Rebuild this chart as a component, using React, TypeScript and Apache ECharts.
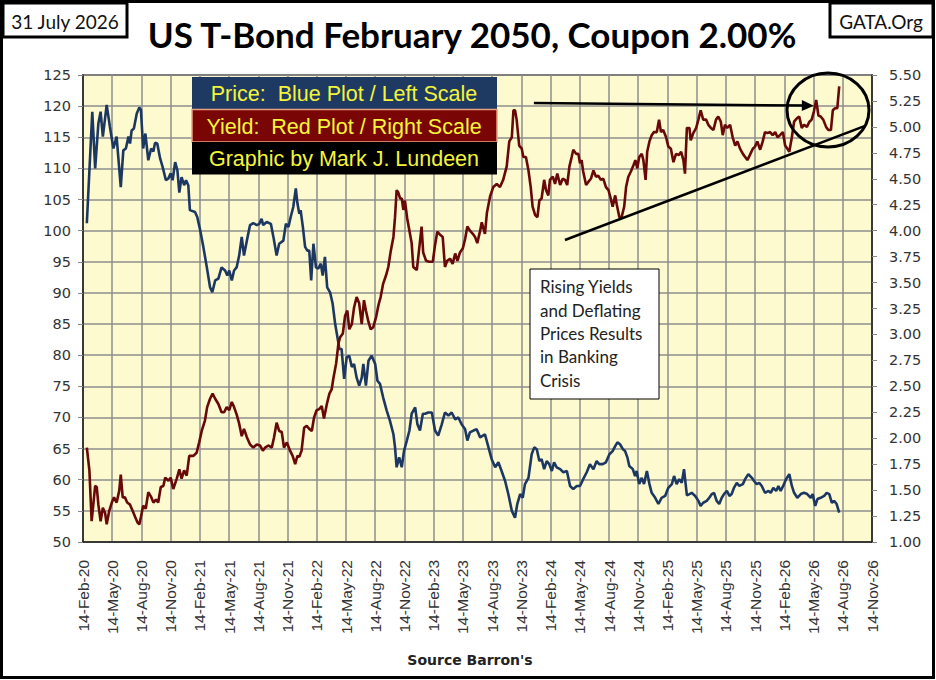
import { useEffect, useRef } from 'react'
import * as echarts from 'echarts'

// x values are days since 14-Feb-20; one quarter = 365.25 / 4 days
const QUARTER_DAYS = 91.3125

const quarterLabels = [
  '14-Feb-20', '14-May-20', '14-Aug-20', '14-Nov-20',
  '14-Feb-21', '14-May-21', '14-Aug-21', '14-Nov-21',
  '14-Feb-22', '14-May-22', '14-Aug-22', '14-Nov-22',
  '14-Feb-23', '14-May-23', '14-Aug-23', '14-Nov-23',
  '14-Feb-24', '14-May-24', '14-Aug-24', '14-Nov-24',
  '14-Feb-25', '14-May-25', '14-Aug-25', '14-Nov-25',
  '14-Feb-26', '14-May-26', '14-Aug-26', '14-Nov-26',
]

// [day, price]
const pricePoints: [number, number][] = [
  [12, 101.2], [29, 119.1], [38, 110.0], [48, 117.2], [55, 119.1], [62, 115.1], [74, 120.2], [84, 116.7],
  [95, 113.2], [105, 115.1], [118, 107.0], [126, 112.9], [134, 113.2], [142, 115.1], [147, 114.0], [152, 116.1],
  [159, 116.4], [168, 118.8], [176, 119.8], [181, 119.4], [188, 113.2], [195, 115.6], [204, 111.3], [213, 113.2],
  [220, 112.7], [225, 114.1], [232, 114.0], [241, 111.6], [249, 110.2], [259, 108.1], [267, 108.4], [274, 109.2],
  [280, 108.1], [288, 111.0], [295, 109.7], [301, 106.1], [308, 108.6], [316, 107.3], [322, 108.1], [329, 107.3],
  [334, 103.3], [350, 103.0], [357, 102.2], [366, 100.1], [376, 97.4], [387, 94.1], [397, 90.9], [404, 90.1],
  [413, 92.0], [423, 92.3], [433, 94.1], [444, 93.6], [451, 92.8], [457, 93.6], [465, 92.0], [472, 93.6],
  [480, 94.1], [488, 96.0], [496, 99.0], [503, 96.0], [512, 98.4], [522, 100.9], [532, 101.2], [543, 100.9],
  [551, 101.1], [558, 101.9], [563, 100.9], [574, 101.4], [587, 101.1], [595, 99.0], [605, 96.0], [613, 97.9],
  [626, 98.4], [634, 101.1], [642, 100.6], [649, 102.2], [657, 103.8], [665, 106.8], [670, 104.4], [676, 102.7],
  [680, 103.3], [687, 100.6], [694, 97.4], [701, 96.8], [707, 96.8], [713, 92.0], [720, 97.9], [728, 94.1],
  [735, 93.9], [743, 94.7], [749, 92.8], [756, 95.8], [763, 90.9], [772, 90.1], [780, 88.3], [788, 85.0],
  [795, 82.9], [801, 81.0], [808, 81.0], [816, 76.2], [824, 79.7], [832, 79.9], [840, 78.1], [847, 78.6],
  [855, 76.4], [863, 75.1], [871, 76.4], [876, 78.6], [884, 75.1], [892, 79.1], [902, 79.9], [913, 78.6],
  [920, 75.9], [928, 75.4], [938, 73.2], [949, 71.1], [959, 69.5], [970, 67.3], [975, 65.2], [980, 62.0],
  [988, 63.6], [996, 62.0], [1003, 64.6], [1012, 66.3], [1020, 67.9], [1027, 70.6], [1038, 71.6], [1045, 68.9],
  [1053, 67.9], [1062, 70.6], [1069, 70.6], [1079, 70.8], [1090, 70.8], [1100, 67.9], [1110, 67.1], [1121, 68.9],
  [1131, 70.8], [1142, 70.3], [1152, 70.8], [1163, 69.7], [1173, 70.0], [1183, 68.9], [1194, 68.1], [1201, 66.3],
  [1209, 67.6], [1220, 67.9], [1230, 68.1], [1241, 66.8], [1256, 67.3], [1267, 65.2], [1277, 63.3], [1288, 62.0],
  [1298, 62.8], [1308, 61.4], [1319, 59.8], [1329, 57.7], [1340, 55.0], [1350, 53.9], [1357, 56.1], [1366, 57.7],
  [1374, 57.1], [1381, 59.3], [1392, 60.3], [1402, 64.1], [1410, 65.2], [1418, 64.9], [1426, 63.0], [1433, 63.3],
  [1441, 61.7], [1449, 63.0], [1457, 62.5], [1465, 61.4], [1472, 62.8], [1480, 62.0], [1491, 61.7], [1501, 61.2],
  [1512, 61.4], [1522, 59.0], [1532, 58.5], [1543, 59.0], [1553, 59.0], [1563, 60.1], [1574, 61.2], [1584, 62.5],
  [1595, 61.7], [1605, 63.0], [1613, 62.5], [1624, 62.5], [1634, 62.8], [1645, 64.1], [1655, 64.6], [1663, 65.4],
  [1670, 66.0], [1678, 65.7], [1687, 64.9], [1694, 64.6], [1701, 63.6], [1707, 62.2], [1718, 61.7], [1725, 60.6],
  [1730, 61.4], [1738, 59.3], [1746, 60.3], [1753, 59.3], [1762, 61.4], [1770, 59.3], [1777, 57.9], [1788, 57.1],
  [1798, 56.1], [1808, 57.1], [1819, 57.4], [1829, 58.7], [1840, 59.3], [1847, 60.6], [1855, 59.3], [1863, 60.1],
  [1871, 59.5], [1878, 61.7], [1887, 57.5], [1895, 57.7], [1902, 57.9], [1913, 57.4], [1923, 56.6], [1930, 55.8],
  [1938, 56.3], [1949, 56.6], [1957, 57.1], [1965, 57.7], [1972, 57.9], [1980, 56.6], [1988, 56.1], [1996, 57.1],
  [2003, 57.7], [2012, 58.2], [2020, 57.4], [2027, 57.7], [2034, 58.7], [2043, 59.5], [2051, 59.0], [2062, 59.3],
  [2069, 60.1], [2079, 60.9], [2090, 60.3], [2097, 59.8], [2105, 59.3], [2113, 59.5], [2121, 59.0], [2131, 57.9],
  [2142, 58.2], [2149, 57.9], [2157, 58.7], [2166, 58.2], [2173, 59.0], [2180, 58.2], [2188, 59.0], [2197, 60.1],
  [2207, 60.9], [2215, 59.0], [2222, 57.9], [2232, 57.1], [2243, 57.7], [2253, 57.9], [2263, 57.7], [2274, 57.1],
  [2280, 57.7], [2288, 55.8], [2295, 56.9], [2305, 57.1], [2316, 57.4], [2324, 57.9], [2332, 57.7], [2340, 56.3],
  [2347, 56.6], [2355, 56.1], [2363, 54.7],
]

// [day, yield %]
const yieldPoints: [number, number][] = [
  [12, 1.91], [20, 1.69], [27, 1.20], [38, 1.54], [43, 1.53], [48, 1.36], [55, 1.20], [62, 1.33],
  [69, 1.28], [74, 1.17], [82, 1.30], [90, 1.38], [97, 1.43], [105, 1.38], [113, 1.49], [118, 1.65],
  [124, 1.43], [131, 1.43], [138, 1.38], [147, 1.36], [155, 1.30], [163, 1.24], [170, 1.19], [176, 1.17],
  [181, 1.24], [188, 1.35], [196, 1.32], [204, 1.48], [212, 1.44], [220, 1.38], [228, 1.41], [235, 1.38],
  [243, 1.53], [251, 1.54], [257, 1.62], [267, 1.59], [274, 1.62], [282, 1.51], [293, 1.61], [301, 1.70],
  [308, 1.61], [316, 1.69], [324, 1.64], [332, 1.83], [345, 1.83], [355, 1.86], [363, 1.96], [371, 2.07],
  [381, 2.17], [388, 2.30], [397, 2.38], [405, 2.43], [413, 2.38], [423, 2.33], [433, 2.25], [441, 2.25],
  [449, 2.30], [457, 2.27], [465, 2.35], [472, 2.30], [480, 2.23], [488, 2.14], [496, 2.02], [503, 2.09],
  [512, 2.01], [522, 1.94], [532, 1.91], [543, 1.94], [553, 1.93], [562, 1.88], [569, 1.91], [579, 1.93],
  [590, 1.91], [597, 2.01], [605, 2.15], [613, 2.07], [621, 2.06], [628, 1.91], [637, 1.96], [647, 1.88],
  [655, 1.83], [663, 1.75], [670, 1.83], [676, 1.82], [683, 1.88], [691, 2.10], [699, 2.12], [707, 2.09],
  [715, 2.07], [722, 2.20], [730, 2.27], [738, 2.28], [746, 2.31], [753, 2.19], [762, 2.33], [770, 2.43],
  [777, 2.47], [782, 2.57], [791, 2.72], [798, 2.91], [803, 2.97], [812, 3.01], [819, 3.18], [826, 3.23],
  [832, 3.05], [840, 3.10], [847, 3.26], [855, 3.36], [863, 3.30], [871, 3.10], [878, 3.33], [884, 3.23],
  [892, 3.12], [899, 3.05], [907, 3.07], [916, 3.17], [923, 3.28], [930, 3.36], [938, 3.49], [947, 3.57],
  [954, 3.65], [962, 3.81], [970, 3.94], [975, 4.13], [980, 4.39], [985, 4.37], [991, 4.31], [996, 4.31],
  [1001, 4.20], [1006, 4.29], [1013, 4.12], [1020, 4.00], [1027, 3.88], [1032, 3.65], [1043, 3.62], [1051, 3.84],
  [1058, 4.04], [1063, 3.79], [1072, 3.71], [1082, 3.70], [1093, 3.70], [1100, 3.86], [1107, 3.99], [1116, 3.96],
  [1124, 3.94], [1131, 3.65], [1138, 3.71], [1147, 3.73], [1155, 3.68], [1163, 3.78], [1170, 3.71], [1178, 3.79],
  [1187, 3.83], [1194, 3.92], [1201, 4.04], [1209, 4.00], [1218, 3.97], [1225, 3.94], [1232, 3.88], [1241, 4.00],
  [1246, 4.08], [1256, 3.97], [1262, 4.17], [1272, 4.33], [1282, 4.42], [1293, 4.45], [1303, 4.42], [1313, 4.49],
  [1324, 4.62], [1332, 4.86], [1340, 4.90], [1345, 5.16], [1350, 5.16], [1355, 5.07], [1363, 4.82], [1371, 4.79],
  [1376, 4.71], [1384, 4.71], [1392, 4.58], [1399, 4.42], [1405, 4.23], [1413, 4.15], [1420, 4.13], [1426, 4.29],
  [1433, 4.31], [1441, 4.49], [1447, 4.39], [1454, 4.34], [1459, 4.49], [1468, 4.52], [1475, 4.45], [1482, 4.55],
  [1491, 4.44], [1499, 4.50], [1506, 4.49], [1513, 4.44], [1520, 4.62], [1527, 4.71], [1532, 4.78], [1541, 4.74],
  [1548, 4.74], [1553, 4.65], [1558, 4.68], [1563, 4.57], [1572, 4.44], [1579, 4.47], [1587, 4.50], [1595, 4.58],
  [1603, 4.52], [1610, 4.53], [1618, 4.49], [1626, 4.50], [1634, 4.42], [1642, 4.39], [1649, 4.31], [1655, 4.23],
  [1663, 4.34], [1668, 4.25], [1676, 4.13], [1683, 4.13], [1691, 4.23], [1697, 4.42], [1704, 4.52], [1712, 4.57],
  [1720, 4.63], [1726, 4.68], [1732, 4.60], [1738, 4.71], [1746, 4.74], [1751, 4.68], [1758, 4.49], [1763, 4.76],
  [1770, 4.86], [1777, 4.92], [1784, 4.95], [1793, 4.95], [1800, 5.07], [1806, 4.95], [1813, 4.97], [1822, 4.90],
  [1829, 4.81], [1837, 4.79], [1845, 4.66], [1853, 4.74], [1862, 4.73], [1869, 4.76], [1876, 4.68], [1881, 4.55],
  [1887, 4.99], [1895, 4.99], [1899, 4.87], [1907, 4.94], [1916, 4.99], [1923, 5.07], [1930, 5.16], [1938, 5.07],
  [1947, 5.07], [1954, 5.02], [1962, 4.99], [1970, 4.97], [1978, 5.07], [1985, 5.10], [1993, 5.05], [1999, 4.92],
  [2006, 5.02], [2013, 4.99], [2022, 5.02], [2030, 4.90], [2038, 4.82], [2045, 4.86], [2053, 4.79], [2062, 4.74],
  [2069, 4.71], [2076, 4.68], [2084, 4.73], [2093, 4.79], [2100, 4.81], [2107, 4.86], [2116, 4.78], [2124, 4.86],
  [2131, 4.95], [2138, 4.94], [2147, 4.95], [2155, 4.92], [2163, 4.95], [2170, 4.90], [2178, 4.92], [2187, 4.95],
  [2194, 4.82], [2201, 4.79], [2207, 4.76], [2215, 4.90], [2222, 5.05], [2230, 5.08], [2238, 5.10], [2246, 4.99],
  [2253, 5.02], [2262, 5.00], [2270, 5.05], [2277, 5.07], [2284, 5.15], [2291, 5.26], [2298, 5.11], [2305, 5.10],
  [2313, 5.07], [2322, 5.00], [2329, 4.97], [2337, 4.97], [2343, 5.16], [2350, 5.18], [2357, 5.18], [2363, 5.39],
]

// hand-drawn annotations, in [day, yield] coordinates
const trendLine: [number, number][] = [[1506, 3.91], [2444, 5.01]]
const arrowLine: [number, number][] = [[1409, 5.23], [2265, 5.205]]

const legendRows = [
  { text: 'Price:  Blue Plot / Left Scale', fill: '#1E3A63' },
  { text: 'Yield:  Red Plot / Right Scale', fill: '#7A0505' },
  { text: 'Graphic by Mark J. Lundeen', fill: '#000000' },
]

const noteLines = ['Rising Yields', 'and Deflating', 'Prices Results', 'in Banking', 'Crisis']

export default function App() {
  const containerRef = useRef<HTMLDivElement>(null)

  useEffect(() => {
    if (!containerRef.current) return
    const chart = echarts.init(containerRef.current, null, { renderer: 'svg' })

    const labelFont = { fontFamily: 'DejaVu Sans', fontSize: 14.5, color: '#333' }

    chart.setOption({
      animation: false,
      grid: {
        left: 83,
        right: 64,
        top: 75,
        bottom: 138,
        show: true,
        backgroundColor: '#FEFAD0',
        borderColor: '#222',
        borderWidth: 1.5,
      },
      xAxis: {
        type: 'value',
        min: 0,
        max: QUARTER_DAYS * (quarterLabels.length - 1),
        interval: QUARTER_DAYS,
        axisLine: { show: true, lineStyle: { color: '#222', width: 1.5 } },
        axisTick: { show: false },
        splitLine: { show: true, lineStyle: { color: '#8E8E8E', width: 1.5 } },
        axisLabel: {
          rotate: 90,
          margin: 18,
          showMinLabel: true,
          showMaxLabel: true,
          fontFamily: 'Liberation Sans',
          fontSize: 15.5,
          color: '#333',
          formatter: (v: number) => quarterLabels[Math.round(v / QUARTER_DAYS)] ?? '',
        },
      },
      yAxis: [
        {
          type: 'value',
          position: 'left',
          min: 50,
          max: 125,
          interval: 5,
          axisLine: { show: true, lineStyle: { color: '#222', width: 1.5 } },
          axisTick: { show: true, length: 5, lineStyle: { color: '#888' } },
          splitLine: { show: true, lineStyle: { color: '#8E8E8E', width: 1.5 } },
          axisLabel: { ...labelFont, margin: 12 },
        },
        {
          type: 'value',
          position: 'right',
          min: 1,
          max: 5.5,
          interval: 0.25,
          axisLine: { show: true, lineStyle: { color: '#222', width: 1.5 } },
          axisTick: { show: true, length: 5, lineStyle: { color: '#888' } },
          splitLine: { show: false },
          axisLabel: { ...labelFont, margin: 17, formatter: (v: number) => v.toFixed(2) },
        },
      ],
      series: [
        {
          name: 'Price',
          type: 'line',
          yAxisIndex: 0,
          data: pricePoints,
          symbol: 'none',
          lineStyle: { color: '#1C3862', width: 2.6 },
          z: 3,
        },
        {
          name: 'Yield',
          type: 'line',
          yAxisIndex: 1,
          data: yieldPoints,
          symbol: 'none',
          lineStyle: { color: '#680808', width: 2.6 },
          z: 4,
          markLine: {
            silent: true,
            symbol: ['none', 'none'],
            label: { show: false },
            lineStyle: { color: '#000', width: 2.5, type: 'solid' },
            data: [
              [{ coord: trendLine[0] }, { coord: trendLine[1] }],
              [
                { coord: arrowLine[0] },
                { coord: arrowLine[1], symbol: 'triangle', symbolSize: [11, 12] },
              ],
            ],
          },
        },
      ],
      graphic: [
        {
          type: 'rect',
          shape: { x: 1.5, y: 1.5, width: 932, height: 676 },
          style: { fill: 'none', stroke: '#000', lineWidth: 3 },
          z: 20,
        },
        {
          type: 'rect',
          shape: { x: 3, y: 3, width: 124, height: 34 },
          style: { fill: '#fff', stroke: '#000', lineWidth: 3 },
          z: 20,
        },
        {
          type: 'text',
          x: 65,
          y: 21,
          style: {
            text: '31 July 2026',
            align: 'center',
            verticalAlign: 'middle',
            font: '19px Lato',
            fill: '#111',
          },
          z: 21,
        },
        {
          type: 'rect',
          shape: { x: 830, y: 3, width: 103, height: 34 },
          style: { fill: '#fff', stroke: '#000', lineWidth: 3 },
          z: 20,
        },
        {
          type: 'text',
          x: 881,
          y: 21,
          style: {
            text: 'GATA.Org',
            align: 'center',
            verticalAlign: 'middle',
            font: '19px Lato',
            fill: '#111',
          },
          z: 21,
        },
        {
          type: 'text',
          x: 472,
          y: 34,
          style: {
            text: 'US T-Bond February 2050, Coupon 2.00%',
            align: 'center',
            verticalAlign: 'middle',
            font: 'bold 35px Lato',
            fill: '#000',
          },
          z: 21,
        },
        {
          type: 'text',
          x: 470,
          y: 660,
          style: {
            text: "Source Barron's",
            align: 'center',
            verticalAlign: 'middle',
            font: 'bold 14px "DejaVu Sans"',
            fill: '#222',
          },
          z: 21,
        },
        ...legendRows.flatMap((row, i) => [
          {
            type: 'rect',
            shape: { x: 192, y: 77 + i * 32.5, width: 305, height: 32.5 },
            style: {
              fill: row.fill,
              stroke: i === 1 ? '#E8A080' : row.fill,
              lineWidth: i === 1 ? 1.5 : 0,
            },
            z: 30,
          },
          {
            type: 'text',
            x: 344,
            y: 77 + i * 32.5 + 17,
            style: {
              text: row.text,
              align: 'center',
              verticalAlign: 'middle',
              font: '21.5px "Liberation Sans"',
              fill: '#F4F43A',
            },
            z: 31,
          },
        ]),
        {
          type: 'ellipse',
          shape: { cx: 828, cy: 110, rx: 41, ry: 37 },
          style: { fill: 'none', stroke: '#000', lineWidth: 3 },
          z: 30,
        },
        {
          type: 'rect',
          shape: { x: 530, y: 269, width: 129, height: 130 },
          style: { fill: '#fff', stroke: '#000', lineWidth: 1 },
          z: 30,
        },
        {
          type: 'text',
          x: 540,
          y: 275,
          style: {
            text: noteLines.join('\n'),
            font: '17px Lato',
            lineHeight: 23.4,
            fill: '#222',
          },
          z: 31,
        },
      ],
    })

    return () => {
      chart.dispose()
    }
  }, [])

  return (
    <div
      ref={containerRef}
      style={{ position: 'fixed', left: 0, top: 0, width: 936, height: 680, background: '#fff' }}
    />
  )
}
